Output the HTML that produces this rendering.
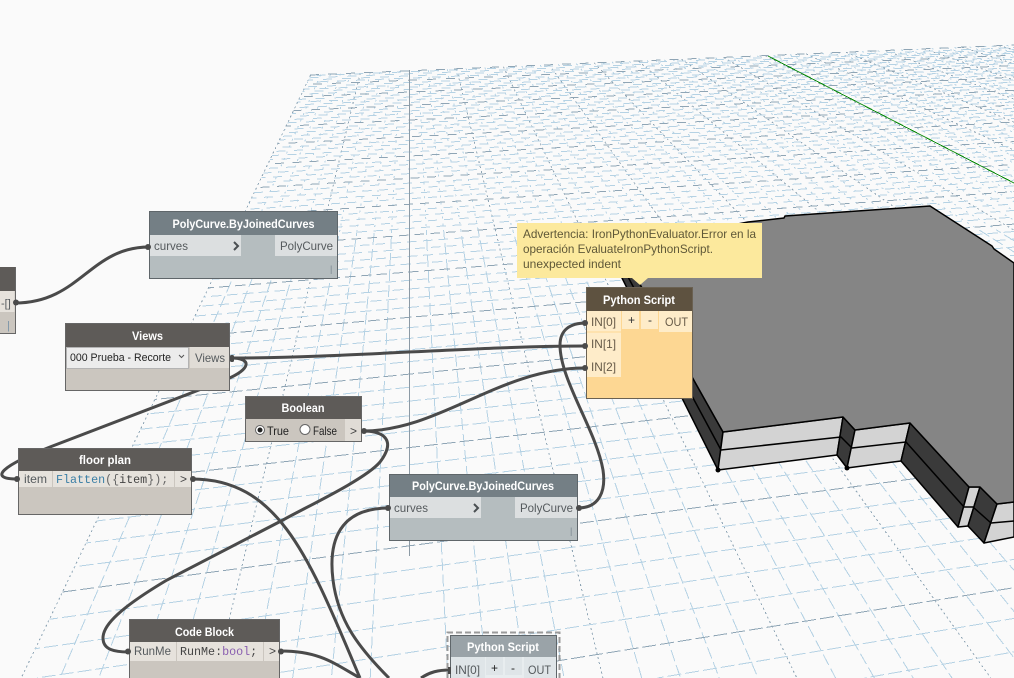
<!DOCTYPE html>
<html><head><meta charset="utf-8">
<style>
html,body{margin:0;padding:0;background:#fafafa;width:1014px;height:678px;overflow:hidden}
svg{display:block}
text{font-family:"Liberation Sans",sans-serif;font-size:12px;fill:#555a5d}
.h{font-weight:bold;font-size:12px;fill:#fff;text-anchor:middle}
.m{font-family:"Liberation Mono",monospace;font-size:11.7px;fill:#444}
.t{fill:#5f5838;font-size:12px}
.w{fill:none;stroke:#4a4a4a;stroke-width:3;stroke-linecap:butt}
.b{stroke:#000;stroke-width:1.5;stroke-linejoin:round}
.p{fill:#4a4a4a}
</style></head>
<body>
<svg xmlns="http://www.w3.org/2000/svg" width="1014" height="678" viewBox="0 0 1014 678">
<rect width="1014" height="678" fill="#fafafa"/>
<g id="grid" shape-rendering="crispEdges" fill="none"></g>
<line x1="409.500" y1="70" x2="409.500" y2="556" stroke="#8c9aa5" stroke-width="1" shape-rendering="crispEdges"/>
<line x1="768" y1="56" x2="1014" y2="183" stroke="#0a8a0a" stroke-width="1" shape-rendering="crispEdges"/>

<!-- building -->
<polygon class="b" fill="#3a3a3a" points="619,247 723,432 718,470 622,278"/>
<polygon class="b" fill="#d3d3d3" points="723,432 843,417 837,455 718,470"/>
<polygon class="b" fill="#3a3a3a" points="843,417 855,430 847,468 837,455"/>
<polygon class="b" fill="#d3d3d3" points="855,430 910,423 901,461 847,468"/>
<polygon class="b" fill="#3a3a3a" points="910,423 969,487 958,527 901,461"/>
<polygon class="b" fill="#d3d3d3" points="969,487 980,487 968,526 958,527"/>
<polygon class="b" fill="#3a3a3a" points="980,487 997,504 984,543 968,526"/>
<polygon class="b" fill="#d3d3d3" points="997,504 1014,502 1014,537 984,543"/>
<polyline class="b" fill="none" points="620,262 721,450 841,437 852,448 906,442 964,507 973,507 991,523 1014,521"/>
<polygon class="b" fill="#858585" points="619,247 748,222 784,218 785,216 930,206 992,246 994,249 1014,263 1014,502 997,504 980,487 969,487 910,423 855,430 843,417 723,432"/>
<circle cx="718" cy="470" r="2.5" fill="#000"/>
<circle cx="847" cy="468" r="2.5" fill="#000"/>

<!-- wires -->
<path class="w" d="M15,303 C80,303 90,247 149,247"/>
<path class="w" d="M231,358 C340,358 480,346 585,346"/>
<path class="w" d="M231,358 C252,358 252,369 225,380 L50,447 C4,465 -14,479 18,479"/>
<path class="w" d="M363,431 C440,431 500,368 585,368"/>
<path class="w" d="M363,431 C385,431 396,441 380,462 C365,480 300,510 283,520 L167,580 C120,608 103,625 103,638 C103,650 115,652 129,652"/>
<path class="w" d="M192,479 C280,479 310,560 360,678"/>
<path class="w" d="M281,651 C320,651 335,664 360,678"/>
<path class="w" d="M389,508 C340,508 328,540 333,580 C338,620 358,647 389,678"/>
<path class="w" d="M421,678 C430,672 438,670 450,670"/>
<path class="w" d="M578,508 C600,508 606,490 603,470 C596,430 560,380 560,345 C560,330 570,323 586,323"/>

<!-- left partial node -->
<rect x="0" y="267" width="15" height="67" fill="#cbc6bf"/>
<path d="M0,333.500 H15.500 V267" fill="none" stroke="#666"/>
<rect x="0" y="267" width="15" height="24" fill="#5e5b58"/>
<rect x="0" y="291" width="14.500" height="21" fill="#e6e2dc"/>
<text x="1" y="307" style="font-size:11px">-[]</text>
<text x="7" y="329" style="fill:#7a93a8;font-size:11px">|</text>
<circle class="p" cx="16" cy="302.500" r="3"/>

<!-- PolyCurve 1 -->
<rect x="149.500" y="211.500" width="188" height="67" fill="#b5bdbf" stroke="#5f666a"/>
<rect x="150" y="212" width="187" height="23" fill="#747f85"/>
<rect x="150" y="235" width="91" height="21" fill="#dcdfe0"/>
<rect x="275" y="235" width="62" height="21" fill="#dcdfe0"/>
<text class="h" x="243.500" y="228" textLength="142" lengthAdjust="spacingAndGlyphs">PolyCurve.ByJoinedCurves</text>
<text x="154" y="250" textLength="34" lengthAdjust="spacingAndGlyphs">curves</text>
<text x="280" y="250" textLength="53" lengthAdjust="spacingAndGlyphs">PolyCurve</text>
<path d="M234,242 L238,246 L234,250" fill="none" stroke="#4a4f52" stroke-width="2"/>
<text x="330" y="272" style="fill:#7a8790;font-size:9px">|</text>
<circle class="p" cx="148" cy="247" r="3"/>

<!-- Views -->
<rect x="65.500" y="323.500" width="164" height="67" fill="#cbc6bf" stroke="#666"/>
<rect x="66" y="324" width="163" height="23" fill="#5e5b58"/>
<rect x="66.500" y="347.500" width="122" height="21" fill="#ececec" stroke="#b3b3b3"/>
<rect x="190" y="347" width="39" height="21" fill="#e0dcd6"/>
<text class="h" x="147.500" y="340" textLength="31" lengthAdjust="spacingAndGlyphs">Views</text>
<text x="70" y="361" style="fill:#222;font-size:11px" textLength="101" lengthAdjust="spacingAndGlyphs">000 Prueba - Recorte</text>
<path d="M179,355 L181.500,357.500 L184,355" fill="none" stroke="#555" stroke-width="1"/>
<text x="195" y="362" textLength="30" lengthAdjust="spacingAndGlyphs">Views</text>
<rect x="230" y="355" width="4" height="7" rx="1.500" fill="#4a4a4a"/>

<!-- Boolean -->
<rect x="245.500" y="396.500" width="116" height="45" fill="#cbc6bf" stroke="#666"/>
<rect x="246" y="397" width="115" height="22" fill="#5e5b58"/>
<rect x="345" y="419" width="16" height="22" fill="#e0dcd6"/>
<text class="h" x="303" y="412" textLength="43" lengthAdjust="spacingAndGlyphs">Boolean</text>
<circle cx="260" cy="430" r="4.500" fill="#fff" stroke="#666"/>
<circle cx="260" cy="430" r="2.500" fill="#222"/>
<circle cx="305" cy="429.500" r="5" fill="#fff" stroke="#666"/>
<text x="267" y="435" style="fill:#222" textLength="22" lengthAdjust="spacingAndGlyphs">True</text>
<text x="313" y="435" style="fill:#222" textLength="24" lengthAdjust="spacingAndGlyphs">False</text>
<text x="350" y="435" style="fill:#444">&gt;</text>
<circle class="p" cx="364" cy="431" r="3"/>

<!-- floor plan -->
<rect x="18.500" y="448.500" width="173" height="66" fill="#cbc6bf" stroke="#666"/>
<rect x="19" y="449" width="172" height="22" fill="#5e5b58"/>
<rect x="19" y="471" width="33" height="16" fill="#e6e2dc"/>
<rect x="53" y="471" width="121" height="16" fill="#e6e2dc"/>
<rect x="175" y="471" width="16" height="16" fill="#e6e2dc"/>
<text class="h" x="105" y="464" textLength="52" lengthAdjust="spacingAndGlyphs">floor plan</text>
<text x="24" y="483" textLength="23" lengthAdjust="spacingAndGlyphs">item</text>
<text class="m" x="56" y="483"><tspan style="fill:#3b7fa6">Flatten</tspan><tspan style="fill:#666">({</tspan>item<tspan style="fill:#666">});</tspan></text>
<text x="180" y="483" style="fill:#444">&gt;</text>
<circle class="p" cx="17" cy="479" r="3"/>
<circle class="p" cx="193" cy="479" r="3"/>

<!-- PolyCurve 2 -->
<rect x="389.500" y="474.500" width="188" height="66" fill="#b5bdbf" stroke="#5f666a"/>
<rect x="390" y="475" width="187" height="22" fill="#747f85"/>
<rect x="390" y="497" width="91" height="21" fill="#dcdfe0"/>
<rect x="515" y="497" width="62" height="21" fill="#dcdfe0"/>
<text class="h" x="483" y="490" textLength="142" lengthAdjust="spacingAndGlyphs">PolyCurve.ByJoinedCurves</text>
<text x="394" y="512" textLength="34" lengthAdjust="spacingAndGlyphs">curves</text>
<text x="520" y="512" textLength="53" lengthAdjust="spacingAndGlyphs">PolyCurve</text>
<path d="M474,504 L478,508 L474,512" fill="none" stroke="#4a4f52" stroke-width="2"/>
<text x="570" y="534" style="fill:#7a8790;font-size:9px">|</text>
<circle class="p" cx="388" cy="508" r="3"/>
<circle class="p" cx="579" cy="508" r="3"/>

<!-- Code Block -->
<rect x="129" y="619" width="151" height="59" fill="#cbc6bf"/>
<path d="M129.500,678 V619.500 H279.500 V678" fill="none" stroke="#666"/>
<rect x="130" y="620" width="149" height="22" fill="#5e5b58"/>
<rect x="130" y="642" width="46" height="19" fill="#e6e2dc"/>
<rect x="177" y="642" width="86" height="19" fill="#e6e2dc"/>
<rect x="264" y="642" width="15" height="19" fill="#e6e2dc"/>
<text class="h" x="204.500" y="636" textLength="59" lengthAdjust="spacingAndGlyphs">Code Block</text>
<text x="134" y="655" textLength="37" lengthAdjust="spacingAndGlyphs">RunMe</text>
<text class="m" x="180" y="655">RunMe:<tspan style="fill:#8a5fb0">bool</tspan>;</text>
<text x="269" y="655" style="fill:#444">&gt;</text>
<circle class="p" cx="128" cy="651.500" r="3"/>
<circle class="p" cx="281" cy="651.500" r="3"/>

<!-- Python Script 2 -->
<path d="M447.500,678 V632.500 H559.500 V678" fill="none" stroke="#9a9a9a" stroke-width="2" stroke-dasharray="6 3"/>
<rect x="450" y="635" width="107" height="43" fill="#e8edef"/>
<path d="M450.500,678 V635.500 H556.500 V678" fill="none" stroke="#5f666a"/>
<rect x="451" y="636" width="105" height="21" fill="#9aa3a8"/>
<rect x="451" y="657" width="34" height="21" fill="#dfe5e8"/>
<rect x="486" y="657" width="17" height="18" fill="#dfe5e8"/>
<rect x="505" y="657" width="17" height="18" fill="#dfe5e8"/>
<rect x="524" y="657" width="32" height="21" fill="#dfe5e8"/>
<text class="h" x="503" y="651" textLength="72" lengthAdjust="spacingAndGlyphs">Python Script</text>
<text x="455" y="674" textLength="25" lengthAdjust="spacingAndGlyphs">IN[0]</text>
<text x="491" y="672" style="fill:#222">+</text>
<text x="511" y="672" style="fill:#222">-</text>
<text x="528" y="674" textLength="23" lengthAdjust="spacingAndGlyphs">OUT</text>
<rect x="448" y="667" width="3" height="7" fill="#4a4a4a"/>

<!-- Python Script 1 -->
<rect x="586.500" y="287.500" width="106" height="111" fill="#fdd793" stroke="#6a6152"/>
<rect x="587" y="288" width="105" height="23" fill="#5e5240"/>
<rect x="587" y="311" width="34" height="66" fill="#feecc9"/>
<line x1="587" y1="332" x2="621" y2="332" stroke="#fdd793"/>
<rect x="622" y="311" width="17" height="18" fill="#feecc9"/>
<rect x="641" y="311" width="17" height="18" fill="#feecc9"/>
<rect x="659" y="311" width="33" height="21" fill="#feecc9"/>
<text class="h" x="639" y="304" textLength="72" lengthAdjust="spacingAndGlyphs">Python Script</text>
<text x="591" y="326" textLength="25" lengthAdjust="spacingAndGlyphs" style="fill:#665a48">IN[0]</text>
<text x="591" y="348" textLength="25" lengthAdjust="spacingAndGlyphs" style="fill:#665a48">IN[1]</text>
<text x="591" y="371" textLength="25" lengthAdjust="spacingAndGlyphs" style="fill:#665a48">IN[2]</text>
<text x="628" y="324" style="fill:#333">+</text>
<text x="648" y="324" style="fill:#333">-</text>
<text x="665" y="326" textLength="23" lengthAdjust="spacingAndGlyphs" style="fill:#665a48">OUT</text>
<circle class="p" cx="585" cy="323" r="3"/>
<circle class="p" cx="585" cy="346" r="3"/>
<circle class="p" cx="585" cy="368" r="3"/>

<!-- tooltip -->
<polygon points="517,223 762,223 762,278 648,278 640,285 632,278 517,278" fill="#fce99d"/>
<text class="t" x="523" y="238" textLength="233" lengthAdjust="spacingAndGlyphs">Advertencia: IronPythonEvaluator.Error en la</text>
<text class="t" x="523" y="253" textLength="190" lengthAdjust="spacingAndGlyphs">operación EvaluateIronPythonScript.</text>
<text class="t" x="523" y="268" textLength="98" lengthAdjust="spacingAndGlyphs">unexpected indent</text>
</svg>
<script>
(function(){
var g=document.getElementById('grid'),NS='http://www.w3.org/2000/svg';
function line(x1,y1,x2,y2,major,a,b,off){
 var l=document.createElementNS(NS,'line');
 l.setAttribute('x1',x1.toFixed(1));l.setAttribute('y1',y1.toFixed(1));
 l.setAttribute('x2',x2.toFixed(1));l.setAttribute('y2',y2.toFixed(1));
 l.setAttribute('stroke',major?'#8fa5b5':'#b5d2e4');
 l.setAttribute('stroke-dasharray',a+' '+b);
 l.setAttribute('stroke-dashoffset',off);
 g.appendChild(l);
}
var VX=409,VY=-130,RX=5490,SPLIT=230;
function far(x){return 75-0.0426*(x-310);}
for(var i=-10;i<=75;i++){
 if(i===0)continue;
 var k=i/5,y=75,x,n;
 for(n=0;n<8;n++){x=VX+k*0.24*(y-VY);y=far(x);}
 var xb=VX+k*0.24*(678-VY),xs=VX+k*0.24*(SPLIT-VY);
 var maj=(i%5===0);
 if(maj){
  line(x,y,xb,678,true,'2','3',0);
 }else{
  if(x<1014&&y<SPLIT)line(x,y,xs,SPLIT,false,'2','5',(i*7)%7);
  line(xs,SPLIT,xb,678,false,'12','4',(i*7)%11);
 }
}
for(var j=-26;j<=69;j++){
 var v=0.001385+0.0000504*j;
 if(v<=0)continue;
 var yl=1/v+VY,xl=VX-0.48*(yl-VY);
 var slope=(VY-yl)/(RX-xl);
 var yEnd=yl+slope*(1014-xl);
 if(yEnd>678)continue;
 var x0=xl,y0=yl;
 if(x0<0){x0=0;y0=yl+slope*(0-xl);}
 if(y0>678){x0=xl+(678-yl)/slope;y0=678;}
 var gap=Math.max(4,Math.min(10,4+11*(1-(yl-VY)/480)));
 var dash=Math.max(9,Math.min(14,(yl-VY)/40));
 line(x0,y0,1014,yEnd,((j%5)+5)%5===0,dash.toFixed(1),gap.toFixed(1),(j*13)%17);
}
line(310,75,1014,far(1014),true,9,9,0);
})();
</script>
</body></html>
